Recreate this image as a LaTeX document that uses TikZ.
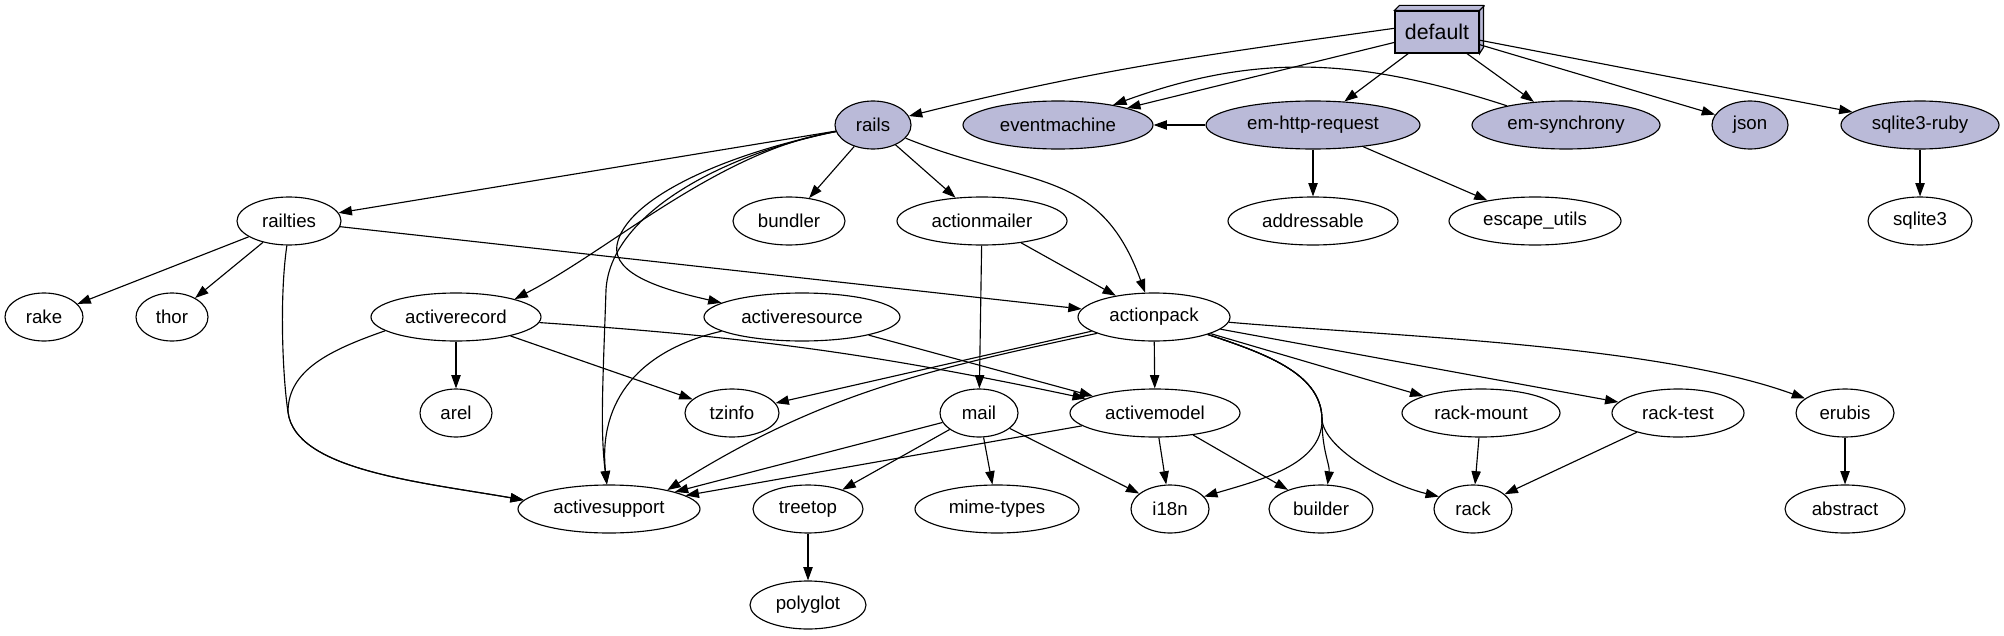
\documentclass[tikz,border=0pt]{standalone}
\usepackage{fontspec}
\setmainfont{Liberation Sans}
\usepackage{tikz}
\usetikzlibrary{arrows.meta,shapes.geometric}

\definecolor{gemfill}{RGB}{186,186,216}

\begin{document}
\begin{tikzpicture}[x=0.75pt, y=0.75pt, line width=0.85pt,
	every node/.style={font=\fontsize{14}{17}\selectfont},
	>={Triangle[length=10pt, width=7pt]},
	pkg/.style={ellipse, draw, inner sep=0pt, minimum height=36pt},
	gem/.style={pkg, fill=gemfill}]
	\useasboundingbox (0,0) rectangle (2004,-635);

	\node[draw, fill=gemfill, inner sep=0pt, minimum width=63pt, minimum height=31.5pt, font=\fontsize{16}{19}\selectfont] (default) at (1437,-32) {default};
	\draw[fill=gemfill] (default.north west) -- ++(5,5) -- ++(84,0) -- ++(0,-42) -- (default.south east) -- (default.north east) -- cycle;
	\draw (default.north east) -- ++(5,5);

	\node[gem, minimum width=57pt] (rails) at (873,-125) {rails};
	\node[gem, minimum width=142.5pt] (eventmachine) at (1058,-125) {eventmachine};
	\node[gem, minimum width=160.5pt] (emhttp) at (1313,-125) {em-http-request};
	\node[gem, minimum width=141pt] (emsync) at (1566,-125) {em-synchrony};
	\node[gem, minimum width=57pt] (json) at (1750,-125) {json};
	\node[gem, minimum width=118.5pt] (sqliteruby) at (1920,-125) {sqlite3-ruby};

	\node[pkg, minimum width=78pt] (railties) at (289,-221) {railties};
	\node[pkg, minimum width=84pt] (bundler) at (789,-221) {bundler};
	\node[pkg, minimum width=127.5pt] (actionmailer) at (982,-221) {actionmailer};
	\node[pkg, minimum width=127.5pt] (addressable) at (1313,-221) {addressable};
	\node[pkg, minimum width=129pt] (escapeutils) at (1535,-221) {escape\_utils};
	\node[pkg, minimum width=78pt] (sqlite3) at (1920,-221) {sqlite3};

	\node[pkg, minimum width=58.5pt] (rake) at (44,-317) {rake};
	\node[pkg, minimum width=54pt] (thor) at (172,-317) {thor};
	\node[pkg, minimum width=127.5pt] (activerecord) at (456,-317) {activerecord};
	\node[pkg, minimum width=147pt] (activeresource) at (802,-317) {activeresource};
	\node[pkg, minimum width=114pt] (actionpack) at (1154,-317) {actionpack};

	\node[pkg, minimum width=54pt] (arel) at (456,-413) {arel};
	\node[pkg, minimum width=70.5pt] (tzinfo) at (732,-413) {tzinfo};
	\node[pkg, minimum width=58.5pt] (mail) at (979,-413) {mail};
	\node[pkg, minimum width=127.5pt] (activemodel) at (1155,-413) {activemodel};
	\node[pkg, minimum width=118.5pt] (rackmount) at (1481,-413) {rack-mount};
	\node[pkg, minimum width=99pt] (racktest) at (1678,-413) {rack-test};
	\node[pkg, minimum width=73.5pt] (erubis) at (1845,-413) {erubis};

	\node[pkg, minimum width=136.5pt] (activesupport) at (609,-509) {activesupport};
	\node[pkg, minimum width=82.5pt] (treetop) at (808,-509) {treetop};
	\node[pkg, minimum width=123pt] (mimetypes) at (997,-509) {mime-types};
	\node[pkg, minimum width=58.5pt] (i18n) at (1170,-509) {i18n};
	\node[pkg, minimum width=78pt] (builder) at (1321,-509) {builder};
	\node[pkg, minimum width=58.5pt] (rack) at (1473,-509) {rack};
	\node[pkg, minimum width=90pt] (abstract) at (1845,-509) {abstract};

	\node[pkg, minimum width=87pt] (polyglot) at (808,-605) {polyglot};

	\coordinate (railsbend) at (606,-290);
	\coordinate (resbend) at (617,-245);
	\coordinate (railbend) at (288,-412);
	\coordinate (packsplit) at (1322,-420);

	\draw[->] (default.175) to[out=188, in=14] (rails);
	\draw[->] (default) -- (eventmachine);
	\draw[->] (default) -- (emhttp);
	\draw[->] (default) -- (emsync);
	\draw[->] (default) -- (json);
	\draw[->] (default) -- (sqliteruby);
	\draw[->] (emsync) to[out=162, in=20] (eventmachine);
	\draw[->] (emhttp) -- (eventmachine);
	\draw[->] (emhttp) -- (addressable);
	\draw[->] (emhttp) -- (escapeutils);
	\draw[->] (sqliteruby) -- (sqlite3);

	\draw[->] (rails) -- (railties);
	\draw[->] (rails) -- (bundler);
	\draw[->] (rails) -- (actionmailer);
	\draw[->] (rails) to[out=-22, in=110, looseness=1.2] (actionpack);
	\draw[->] (rails.190) .. controls (720,-150) and (610,-250) .. (activerecord.17);
	\draw[->] (rails.190) .. controls (720,-155) and (610,-215) .. (railsbend) .. controls (603,-380) and (600,-430) .. (activesupport.95);
	\draw[->] (rails.190) .. controls (720,-155) and (625,-200) .. (resbend) .. controls (612,-275) and (665,-290) .. (activeresource.170);

	\draw[->] (railties) -- (rake);
	\draw[->] (railties) -- (thor);
	\draw[->] (railties) -- (actionpack);
	\draw[->] (railties.265) .. controls (279,-300) and (283,-380) .. (railbend) .. controls (295,-470) and (420,-482) .. (activesupport.174);

	\draw[->] (activerecord) -- (arel);
	\draw[->] (activerecord) -- (tzinfo);
	\draw[->] (activerecord) to[bend left=4] (activemodel);
	\draw[->] (activerecord.191) .. controls (330,-350) and (288,-370) .. (railbend) .. controls (295,-470) and (420,-482) .. (activesupport.174);

	\draw[->] (activeresource) -- (activemodel);
	\draw[->] (activeresource.190) .. controls (640,-350) and (598,-400) .. (activesupport.95);

	\draw[->] (actionmailer) -- (actionpack);
	\draw[->] (actionmailer) -- (mail);

	\draw[->] (actionpack) -- (tzinfo);
	\draw[->] (actionpack.196) to[out=192, in=32] (activesupport.18);
	\draw[->] (actionpack) -- (activemodel);
	\draw[->] (actionpack) -- (rackmount);
	\draw[->] (actionpack) -- (racktest);
	\draw[->] (actionpack.-4) to[out=-5, in=160, looseness=0.7] (erubis);
	\draw[->] (actionpack.-18) .. controls (1270,-355) and (1322,-375) .. (packsplit) .. controls (1322,-465) and (1260,-480) .. (i18n.20);
	\draw[->] (actionpack.-18) .. controls (1270,-355) and (1322,-375) .. (packsplit) .. controls (1322,-450) and (1330,-465) .. (builder.75);
	\draw[->] (actionpack.-18) .. controls (1270,-355) and (1322,-375) .. (packsplit) .. controls (1325,-450) and (1390,-485) .. (rack.160);

	\draw[->] (mail) -- (activesupport);
	\draw[->] (mail) -- (treetop);
	\draw[->] (mail) -- (mimetypes);
	\draw[->] (mail) -- (i18n);

	\draw[->] (activemodel) -- (activesupport);
	\draw[->] (activemodel) -- (i18n);
	\draw[->] (activemodel) -- (builder);

	\draw[->] (rackmount) -- (rack);
	\draw[->] (racktest) -- (rack);
	\draw[->] (erubis) -- (abstract);
	\draw[->] (treetop) -- (polyglot);
\end{tikzpicture}
\end{document}
